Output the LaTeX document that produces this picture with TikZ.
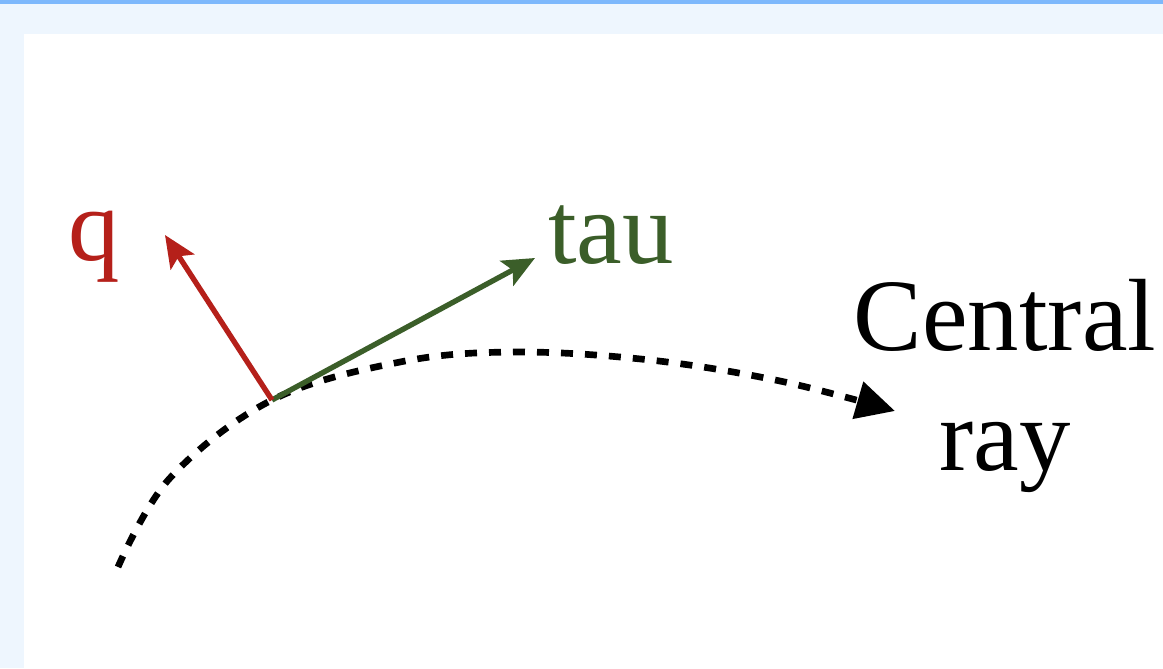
\documentclass[tikz,border=0pt]{standalone}
\usepackage{fontspec}
\setmainfont{Liberation Serif}
\usetikzlibrary{arrows.meta}
\definecolor{barblue}{HTML}{7DB8FC}
\definecolor{pagebg}{HTML}{EEF6FE}
\definecolor{qred}{HTML}{B5201A}
\definecolor{taugreen}{HTML}{3B5E29}
\tikzset{
  lbl/.style={inner sep=0pt, font=\fontsize{77}{90}\selectfont},
  vec/.style={line width=4pt, -{Stealth[length=24pt,width=21pt,inset=5pt]}},
  ray/.style={line width=5pt, dash pattern=on 9pt off 9pt, -{Triangle[length=29pt,width=28pt]}}
}
\begin{document}
\begin{tikzpicture}[x=0.75pt,y=-0.75pt]
\useasboundingbox (0,0) rectangle (1163,668);
\fill[pagebg] (0,0) rectangle (1163,668);
\fill[barblue] (0,0) rectangle (1163,4);
\fill[white] (24,34) rectangle (1163,668);
% labels
\node[lbl, text=qred, anchor=base west] (q) at (68,260) {q};
\node[lbl, text=taugreen, anchor=base west] (tau) at (548,263) {tau};
\node[lbl, anchor=base] (central) at (1005,350) {Central};
\node[lbl, anchor=base] (rayl) at (1005,470) {ray};
% points
\coordinate (o) at (272,400);
\coordinate (qtip) at (165,235);
\coordinate (tautip) at (535,258);
% central ray
\draw[ray] plot[smooth, tension=0.6] coordinates {(118,567) (170,478) (272,400) (400,362) (515,352) (650,360) (780,381) (895,411)};
% vectors
\draw[vec, color=taugreen] (o) -- (tautip);
\draw[vec, color=qred] (o) -- (qtip);
\end{tikzpicture}
\end{document}
